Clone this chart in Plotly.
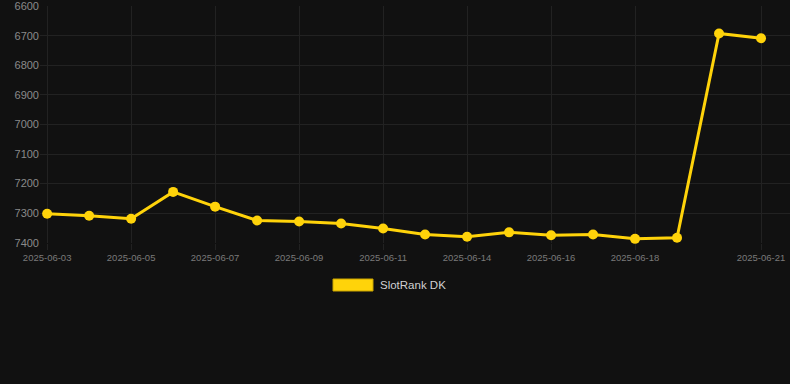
import plotly.graph_objects as go

dates = ["2025-06-03", "2025-06-04", "2025-06-05", "2025-06-06", "2025-06-07",
         "2025-06-08", "2025-06-09", "2025-06-10", "2025-06-11", "2025-06-12",
         "2025-06-14", "2025-06-15", "2025-06-16", "2025-06-17", "2025-06-18",
         "2025-06-19", "2025-06-20", "2025-06-21"]
ranks = [7302, 7309, 7319, 7228, 7278, 7325, 7328, 7335, 7352, 7372,
         7380, 7365, 7375, 7372, 7387, 7383, 6692, 6708]
x_ticks = ["2025-06-03", "2025-06-05", "2025-06-07", "2025-06-09", "2025-06-11",
           "2025-06-14", "2025-06-16", "2025-06-18", "2025-06-21"]
y_ticks = [6600, 6700, 6800, 6900, 7000, 7100, 7200, 7300, 7400]
series_name = "SlotRank DK"

gold = "#FFD30A"
bg = "#111111"
grid = "#222222"

fig = go.Figure()
fig.add_trace(go.Scatter(
    x=dates, y=ranks, mode="lines+markers", name=series_name,
    line=dict(color=gold, width=3),
    marker=dict(color=gold, size=10),
    showlegend=False, cliponaxis=False,
))

fig.update_layout(
    width=790, height=384,
    paper_bgcolor=bg, plot_bgcolor=bg,
    margin=dict(l=40, r=0, t=6, b=141),
    font=dict(family="Liberation Sans, Arial, sans-serif", color="#888888"),
    xaxis=dict(
        type="category", categoryorder="array", categoryarray=dates,
        range=[-0.17, 17.69],
        tickmode="array", tickvals=x_ticks, ticktext=x_ticks,
        tickfont=dict(size=9.5, color="#7a7a7a"),
        showgrid=True, gridcolor=grid, gridwidth=1,
        zeroline=False, showline=False,
        ticks="outside", ticklen=6, tickcolor=grid,
    ),
    yaxis=dict(
        range=[7401, 6599], tickvals=y_ticks,
        tickfont=dict(size=11, color="#8a8a8a"),
        showgrid=True, gridcolor=grid, gridwidth=1,
        zeroline=False, showline=False, ticks="",
    ),
    shapes=[dict(
        type="rect", xref="paper", yref="paper",
        x0=(333 - 40) / 750, x1=(373 - 40) / 750,
        y0=(243 - 291) / 237, y1=(243 - 279) / 237,
        fillcolor=gold, line=dict(color="#c9a400", width=1),
    )],
    annotations=[dict(
        text=series_name, xref="paper", yref="paper",
        x=(378 - 40) / 750, y=(243 - 285) / 237,
        xanchor="left", yanchor="middle", showarrow=False,
        font=dict(size=11.5, color="#d0d0d0"),
    )],
)

fig.write_html("out.html", config={"displayModeBar": False},
               post_script="document.body.style.margin='0';document.body.style.background='#111111';")
